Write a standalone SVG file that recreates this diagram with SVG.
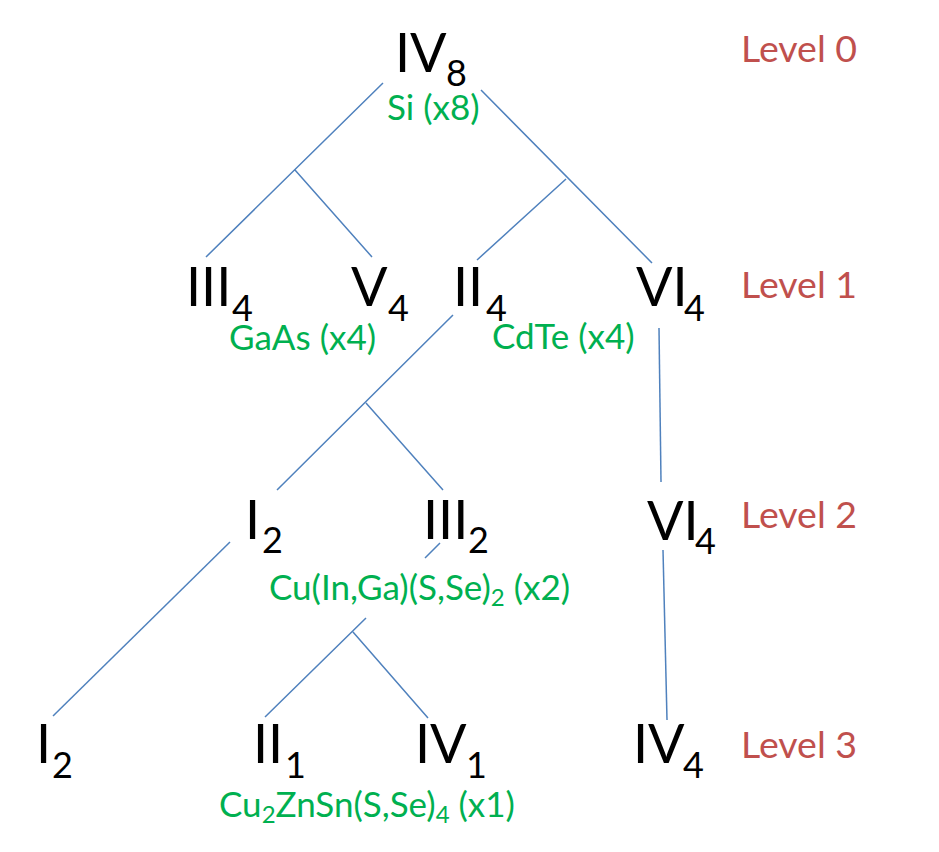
<svg xmlns="http://www.w3.org/2000/svg" width="939" height="852" viewBox="0 0 939 852">
<style>
.n{font-family:Lato,"Liberation Sans",sans-serif;font-size:54px;fill:#000}
.s{font-size:36px}
.g{font-family:Lato,"Liberation Sans",sans-serif;font-size:35px;fill:#00B050}
.gs{font-size:24px}
.lv{font-family:Lato,"Liberation Sans",sans-serif;font-size:37.5px;fill:#C0504D}
.c{stroke:#4F81BD;stroke-width:1.5;fill:none}
</style>
<rect width="939" height="852" fill="#fff"/>
<g id="connectors" class="c">
<path d="M383,83 L206,257 M295,170 L372,257"/>
<path d="M481,90 L652,263 M566,179 L477,260"/>
<path d="M453,315 L277,490 M366,403 L443,490"/>
<path d="M659,328 L661,482"/>
<path d="M663,550 L667,720"/>
<path d="M230,542 L53,716"/>
<path d="M440,543 L425,558 M366,618 L265,717 M353,632 L428,718"/>
</g>
<g id="n-IV8"><text class="n" x="395" y="72">IV<tspan class="s" x="446" y="86">8</tspan></text><text class="g" x="387" y="120">Si (x8)</text></g>
<g id="n-III4"><text class="n" x="186" y="306">III<tspan class="s" x="232" y="321">4</tspan></text></g>
<g id="n-V4"><text class="n" x="351" y="306">V<tspan class="s" x="388" y="321">4</tspan></text></g>
<g id="l-GaAs"><text class="g" x="229" y="350">GaAs (x4)</text></g>
<g id="n-II4"><text class="n" x="453" y="306">II<tspan class="s" x="486" y="321">4</tspan></text></g>
<g id="n-VI4a"><text class="n" x="636" y="306">VI<tspan class="s" x="684" y="321">4</tspan></text></g>
<g id="l-CdTe"><text class="g" x="492" y="349">CdTe (x4)</text></g>
<g id="n-I2a"><text class="n" x="245" y="539">I<tspan class="s" x="262" y="553">2</tspan></text></g>
<g id="n-III2"><text class="n" x="423" y="539">III<tspan class="s" x="468" y="553">2</tspan></text></g>
<g id="l-CIGS"><text class="g" x="269" y="600">Cu(In,Ga)(S,Se)<tspan class="gs" dy="6">2</tspan><tspan dy="-6"> (x2)</tspan></text></g>
<g id="n-VI4b"><text class="n" x="647" y="540">VI<tspan class="s" x="695" y="554">4</tspan></text></g>
<g id="n-I2b"><text class="n" x="36" y="763">I<tspan class="s" x="52" y="778">2</tspan></text></g>
<g id="n-II1"><text class="n" x="253" y="763">II<tspan class="s" x="285" y="778">1</tspan></text></g>
<g id="n-IV1"><text class="n" x="415" y="763">IV<tspan class="s" x="466" y="778">1</tspan></text></g>
<g id="n-IV4"><text class="n" x="633" y="763">IV<tspan class="s" x="683" y="778">4</tspan></text></g>
<g id="l-CZTS"><text class="g" x="219" y="817">Cu<tspan class="gs" dy="6">2</tspan><tspan dy="-6">ZnSn(S,Se)</tspan><tspan class="gs" dy="6">4</tspan><tspan dy="-6"> (x1)</tspan></text></g>
<g id="levels">
<text class="lv" x="741" y="62">Level 0</text>
<text class="lv" x="741" y="298">Level 1</text>
<text class="lv" x="741" y="528">Level 2</text>
<text class="lv" x="741" y="758">Level 3</text>
</g>
</svg>
